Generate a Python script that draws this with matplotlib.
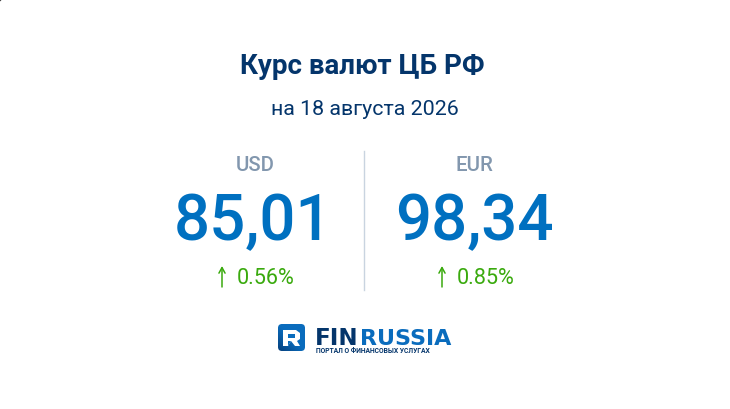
import matplotlib
matplotlib.use('Agg')
import numpy as np
import matplotlib.pyplot as plt
from matplotlib.colors import LinearSegmentedColormap
from matplotlib.patches import FancyBboxPatch, Polygon

title = 'Курс валют ЦБ РФ'
subtitle = 'на 18 августа 2026'
currencies = ['USD', 'EUR']
rates = [85.01, 98.34]
changes = [0.56, 0.85]

DARK = '#04356b'
BLUE = '#0070c0'
GREY = '#8297ae'
GREEN = '#3aaa0e'
LOGO_BLUE = '#0a6cbd'

plt.rcParams['font.family'] = ['Roboto', 'DejaVu Sans']

fig = plt.figure(figsize=(7.3, 4.1), dpi=100, facecolor='white')
ax = fig.add_axes([0, 0, 1, 1])
ax.axis('off')

ax.text(362, 67, title, ha='center', va='center', fontsize=20, fontweight='bold', color=DARK)
ax.text(365, 109.5, subtitle, ha='center', va='center', fontsize=15.4, color=DARK)

label_x = [255, 474.5]
rate_x = [253, 474.5]
change_x = [237, 457]
for i in range(2):
    ax.text(label_x[i], 165.5, currencies[i], ha='center', va='center', fontsize=14.7, fontweight='medium', color=GREY)
    ax.text(rate_x[i], 222, f'{rates[i]:.2f}'.replace('.', ','), ha='center', va='center', fontsize=45.8, fontweight='medium', color=BLUE)
    ax.annotate('', xy=(change_x[i] - 15, 267), xytext=(change_x[i] - 15, 288),
                arrowprops=dict(arrowstyle='->,head_width=0.22,head_length=0.4', color=GREEN, lw=1.1, shrinkA=0, shrinkB=0))
    ax.text(change_x[i], 279, f'{changes[i]:.2f}%', ha='left', va='center', fontsize=15.6, color=GREEN)

ax.plot([364, 364], [152, 291], color='#c9d4e0', lw=1)

# логотип: квадрат с градиентом и белая буква R
grad = np.linspace(0, 1, 64).reshape(-1, 1) + np.linspace(0, 1, 64).reshape(1, -1)
cmap = LinearSegmentedColormap.from_list('logo', [LOGO_BLUE, LOGO_BLUE, '#063f7c'])
img = ax.imshow(grad[:, ::-1], extent=(278, 305, 352, 325), cmap=cmap, aspect='auto', zorder=1)
box = FancyBboxPatch((278, 325), 27, 27, boxstyle='round,pad=0,rounding_size=4', fc='none', ec='none', transform=ax.transData)
ax.add_patch(box)
img.set_clip_path(box)

ax.add_patch(Polygon([[283, 331], [296, 331], [300, 334], [300, 340], [297, 342], [300, 347],
                      [295, 347], [291, 342], [288, 347], [283, 347]], fc='white', ec='none', zorder=2))
ax.add_patch(Polygon([[288, 335], [295, 335], [295, 339], [288, 339]], fc=LOGO_BLUE, ec='none', zorder=3))
ax.add_patch(Polygon([[288, 342], [291, 342], [288, 347]], fc=LOGO_BLUE, ec='none', zorder=3))

ax.text(315, 345, 'FIN', ha='left', va='baseline', fontsize=16.6, family='DejaVu Sans', fontweight='bold', color=DARK)
ax.text(360.5, 345, 'RUSSIA', ha='left', va='baseline', fontsize=16, family='DejaVu Sans', fontweight='bold', color=LOGO_BLUE)
ax.text(316, 353, 'ПОРТАЛ О ФИНАНСОВЫХ УСЛУГАХ', ha='left', va='baseline', fontsize=4.9, fontweight='bold', color=DARK)

# тёмный уголок
ax.add_patch(Polygon([[0, 0], [2.5, 0], [0, 2.5]], fc='#333333', ec='none'))

ax.set_xlim(0, 730)
ax.set_ylim(410, 0)

fig.savefig('out.png', dpi=100, facecolor='white')
